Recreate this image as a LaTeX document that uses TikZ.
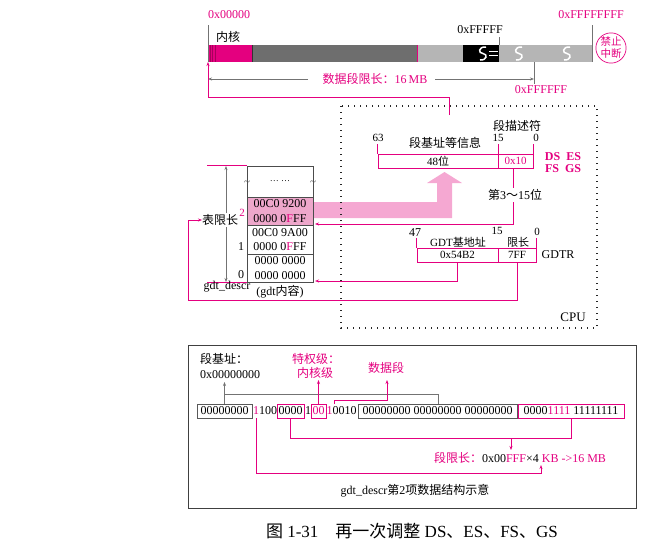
\documentclass[tikz,border=0pt]{standalone}
\usepackage{fontspec}
\setmainfont{Liberation Serif}
\newfontfamily\cjk{Noto Sans CJK SC}
\usetikzlibrary{arrows.meta}
\newcommand\zh[1]{{\cjk #1}}
\definecolor{mag}{HTML}{E4007F}
\definecolor{magdk}{HTML}{A8005C}
\definecolor{tpink}{HTML}{EEA7CB}
\definecolor{apink}{HTML}{F5A8D2}
\definecolor{bardk}{HTML}{6E6E6E}
\definecolor{barlt}{HTML}{B5B5B5}
\begin{document}
\begin{tikzpicture}[x=1pt,y=-1pt,
  lbl/.style={inner sep=0pt, font=\fontsize{12}{14}\selectfont},
  slbl/.style={inner sep=0pt, font=\fontsize{11}{13}\selectfont},
  mlbl/.style={lbl, text=mag},
  mline/.style={draw=mag, line width=0.7pt},
  marr/.style={mline, -{Stealth[length=4pt,width=3pt]}},
  gline/.style={draw=black!55, line width=0.6pt},
  garr/.style={gline, -{Stealth[length=4pt,width=3pt]}},
  regbox/.style={draw=mag, line width=0.7pt, inner sep=0pt, minimum height=14pt, font=\fontsize{11}{13}\selectfont},
  tcell/.style={draw=black!70, line width=0.6pt, inner sep=0pt, minimum width=66pt, align=center, font=\fontsize{12}{14.5}\selectfont},
  bitbox/.style={draw=black!65, line width=0.8pt, inner sep=0pt, minimum height=14pt, font=\fontsize{12}{13}\selectfont},
  mbitbox/.style={bitbox, draw=mag},
  bit/.style={inner sep=0pt, font=\fontsize{12}{13}\selectfont},
  brkS/.pic={\draw[white, line width=1.5pt] (3,-6.5) .. controls (-5,-7) and (-5,0) .. (0,0) .. controls (5,0.5) and (4,7) .. (-3,6.5);}
]
\useasboundingbox (0,0) rectangle (656,544);

% ---------------- memory bar ----------------
\fill[mag] (208,45) rectangle (252,62);
\foreach \xx in {210,212.5,215} \draw[magdk, line width=0.4pt] (\xx,45) -- (\xx,62);
\fill[bardk] (252,45) rectangle (417,62);
\draw[black!80, line width=0.6pt] (252,45) -- (252,62);
\fill[barlt] (417,45) rectangle (592,62);
\draw[mag, line width=0.6pt] (417,45) -- (417,62);
\fill[black] (463,45) rectangle (499,62);
\pic at (483,53.5) {brkS};
\draw[white, line width=0.8pt] (489,51.5) -- (498,51.5) (489,55.5) -- (498,55.5);
\pic at (519,53.5) {brkS};
\pic at (567,53.5) {brkS};
\draw[gline] (208,25) -- (208,62);
\draw[gline] (499,37) -- (499,45);
\draw[gline] (592,25) -- (592,62);
\draw[gline] (534,62) -- (534,84);

\node[mlbl] (a0) at (229,15) {0x00000};
\node[lbl] (kern) at (228,37) {\zh{内核}};
\node[lbl] (a1m) at (480,30) {0xFFFFF};
\node[mlbl] (a4g) at (591,15) {0xFFFFFFFF};
\node[mlbl] (a16m) at (541,90) {0xFFFFFF};
\node[draw=mag, line width=0.7pt, circle, minimum size=30pt, inner sep=0pt, text=mag, align=center, font=\cjk\fontsize{10.5}{12}\selectfont] (nmi) at (611,48) {禁止\\中断};

\coordinate (d0) at (208,79);
\coordinate (d0b) at (308,79);
\coordinate (d1) at (534,79);
\coordinate (d1b) at (435,79);
\node[mlbl, font=\fontsize{12}{14}\selectfont] (dlen) at (375,79) {\zh{数据段限长：}16\,MB};
\draw[garr] (d0b) -- (d0);
\draw[garr] (d1b) -- (d1);

% ---------------- big pink arrow ----------------
\fill[apink] (313,202) -- (437,202) -- (437,183) -- (427,183) -- (444.5,172) -- (462,183) -- (452,183) -- (452,218) -- (313,218) -- cycle;

% ---------------- CPU box ----------------
\draw[black!85, line width=1.4pt, dash pattern=on 1.4pt off 4.6pt] (341,106) rectangle (597,328);
\node[lbl, font=\fontsize{13}{15}\selectfont] (cpu) at (573,317) {CPU};

% segment register
\node[regbox, minimum width=120pt] (sbase) at (438,161) {48\zh{位}};
\node[regbox, minimum width=35pt, text=mag] (ssel) at (515.5,161) {0x10};
\node[slbl] (s63) at (378,138) {63};
\node[slbl] (s15) at (498,138) {15};
\node[slbl] (s0) at (536,138) {0};
\draw[mline, line width=0.5pt] (sbase.north west) -- ++(0,-10);
\draw[mline, line width=0.5pt] (sbase.north east) -- ++(0,-10);
\draw[mline, line width=0.5pt] (ssel.north east) -- ++(0,-10);
\node[lbl] (sinfo) at (445,143) {\zh{段基址等信息}};
\node[lbl] (sdesc) at (517,126) {\zh{段描述符}};
\node[mlbl, font=\bfseries\fontsize{12}{14}\selectfont] (sregs1) at (563,157) {DS\hspace{6pt}ES};
\node[mlbl, font=\bfseries\fontsize{12}{14}\selectfont] (sregs2) at (563,169) {FS\hspace{6pt}GS};

% base line up to memory start
\coordinate (bup) at (449,115);
\coordinate (memstart) at (208,62);
\draw[marr] (bup) -- (449,97) -| (memstart);

% ---------------- GDT table ----------------
\node[tcell, minimum height=31pt] (edots) at (280,181.5) {\fontsize{9}{10}\selectfont\ldots\ \ldots};
\node[tcell, minimum height=28pt, fill=tpink] (e2) at (280,211) {00C0 9200\\0000 0\textcolor{mag}{F}FF};
\node[tcell, minimum height=29pt] (e1) at (280,239.5) {00C0 9A00\\0000 0\textcolor{mag}{F}FF};
\node[tcell, minimum height=28pt] (e0) at (280,268) {0000 0000\\0000 0000};
\node[slbl, text=black!70] (tl) at (247,183) {\textasciitilde};
\node[slbl, text=black!70] (tr) at (313,183) {\textasciitilde};
\node[slbl, text=mag] (i2) at (242,213) {2};
\node[lbl] (i1) at (241,247) {1};
\node[lbl] (i0) at (241,275) {0};
\draw[mline] (edots.north west) -- ++(-40,0);
\draw[mline] (e0.south west) -- ++(-40,0);
\coordinate (ltop) at (226,166);
\coordinate (lbot) at (226,282);
\draw[gline, {Stealth[length=4pt,width=3pt]}-{Stealth[length=4pt,width=3pt]}] (ltop) -- (lbot);
\node[lbl, fill=white, inner sep=1pt] (tlim) at (220,220) {\zh{表限长}};
\node[lbl] (gname) at (227,287) {gdt\_descr};
\node[lbl] (gcont) at (280,292) {(gdt\zh{内容})};

% selector arrow to entry 2
\coordinate (selout) at (513,168);
\coordinate (e2in) at (315,224);
\draw[marr] (selout) -- (513,224) -- (e2in);
\node[lbl, fill=white, inner sep=1.5pt] (selbits) at (515,195) {\zh{第}3\zh{～}15\zh{位}};

% ---------------- GDTR ----------------
\node[regbox, minimum width=81pt] (gbase) at (457.5,255) {0x54B2};
\node[regbox, minimum width=38pt] (glim) at (517,255) {7FF};
\node[lbl] (g47) at (415,233) {47};
\node[slbl] (g15) at (497,231) {15};
\node[slbl] (g0) at (537,232) {0};
\draw[mline, line width=0.5pt] (gbase.north west) -- ++(0,-10);
\draw[mline, line width=0.5pt] (glim.north east) -- ++(0,-10);
\node[slbl] (gbl) at (458,242) {GDT\zh{基地址}};
\node[slbl] (gll) at (518,242) {\zh{限长}};
\node[lbl] (gdtr) at (558,255) {GDTR};
\coordinate (e0in) at (315,281);
\draw[marr] (gbase.south) |- (e0in);
\coordinate (tlimin) at (202,220);
\draw[marr] (glim.south) -- (517,300) -- (188,300) -- (188,220) -- (tlimin);

% ---------------- bottom panel ----------------
\draw[black!75, line width=0.9pt] (188,345) rectangle (636,508);
\node[lbl, anchor=west] (bl1) at (200,359) {\zh{段基址：}};
\node[lbl, anchor=west] (bl2) at (200,375) {0x00000000};
\node[mlbl] (pl1) at (316,359) {\zh{特权级：}};
\node[mlbl] (pl2) at (315,373) {\zh{内核级}};
\node[mlbl] (dseg) at (386,368) {\zh{数据段}};

\node[bitbox, minimum width=55pt] (b1) at (224.5,411) {00000000};
\node[bit, text=mag] (gbit) at (256,411) {1};
\node[bit] (b100) at (268,411) {100};
\node[mbitbox, minimum width=27pt] (blim) at (290.5,411) {0000};
\node[bit] (pbit) at (308,411) {1};
\node[mbitbox, minimum width=15pt, text=mag] (dpl) at (318.5,411) {00};
\node[bit, text=mag] (sbit) at (329.5,411) {1};
\node[bit] (typ) at (344.5,411) {0010};
\node[bitbox, minimum width=159pt] (b3) at (437.5,411) {00000000 00000000 00000000};
\node[mbitbox, minimum width=106pt] (b4) at (571,411) {0000\textcolor{mag}{1111} 11111111};

\coordinate (brk) at (438,404);
\draw[garr] (b1.north) -- (224.5,382);
\draw[gline] (224.5,394) -- (438,394) -- (brk);
\draw[marr] (dpl.north) -- (318.5,380);
\draw[marr] (334,404) -- (334,400) -- (387,400) -- (387,380);

\node[lbl] (lenlbl) at (520,458) {\textcolor{mag}{\zh{段限长：}}0x00\textcolor{mag}{FFF}×4~\textcolor{mag}{KB ->16 MB}};
\draw[mline] (blim.south) -- (290.5,438) -- (571,438) -- (b4.south);
\draw[marr] (511,438) -- (511,450);
\draw[marr] (256,418) -- (256,473) -- (541,473) -- (541,465);

\node[lbl] (ptitle) at (415,491) {gdt\_descr\zh{第}2\zh{项数据结构示意}};
\node[lbl, font=\fontsize{17}{19}\selectfont] (cap) at (412,531) {\zh{图} 1-31\quad\zh{再一次调整} DS\zh{、}ES\zh{、}FS\zh{、}GS};
\end{tikzpicture}
\end{document}
